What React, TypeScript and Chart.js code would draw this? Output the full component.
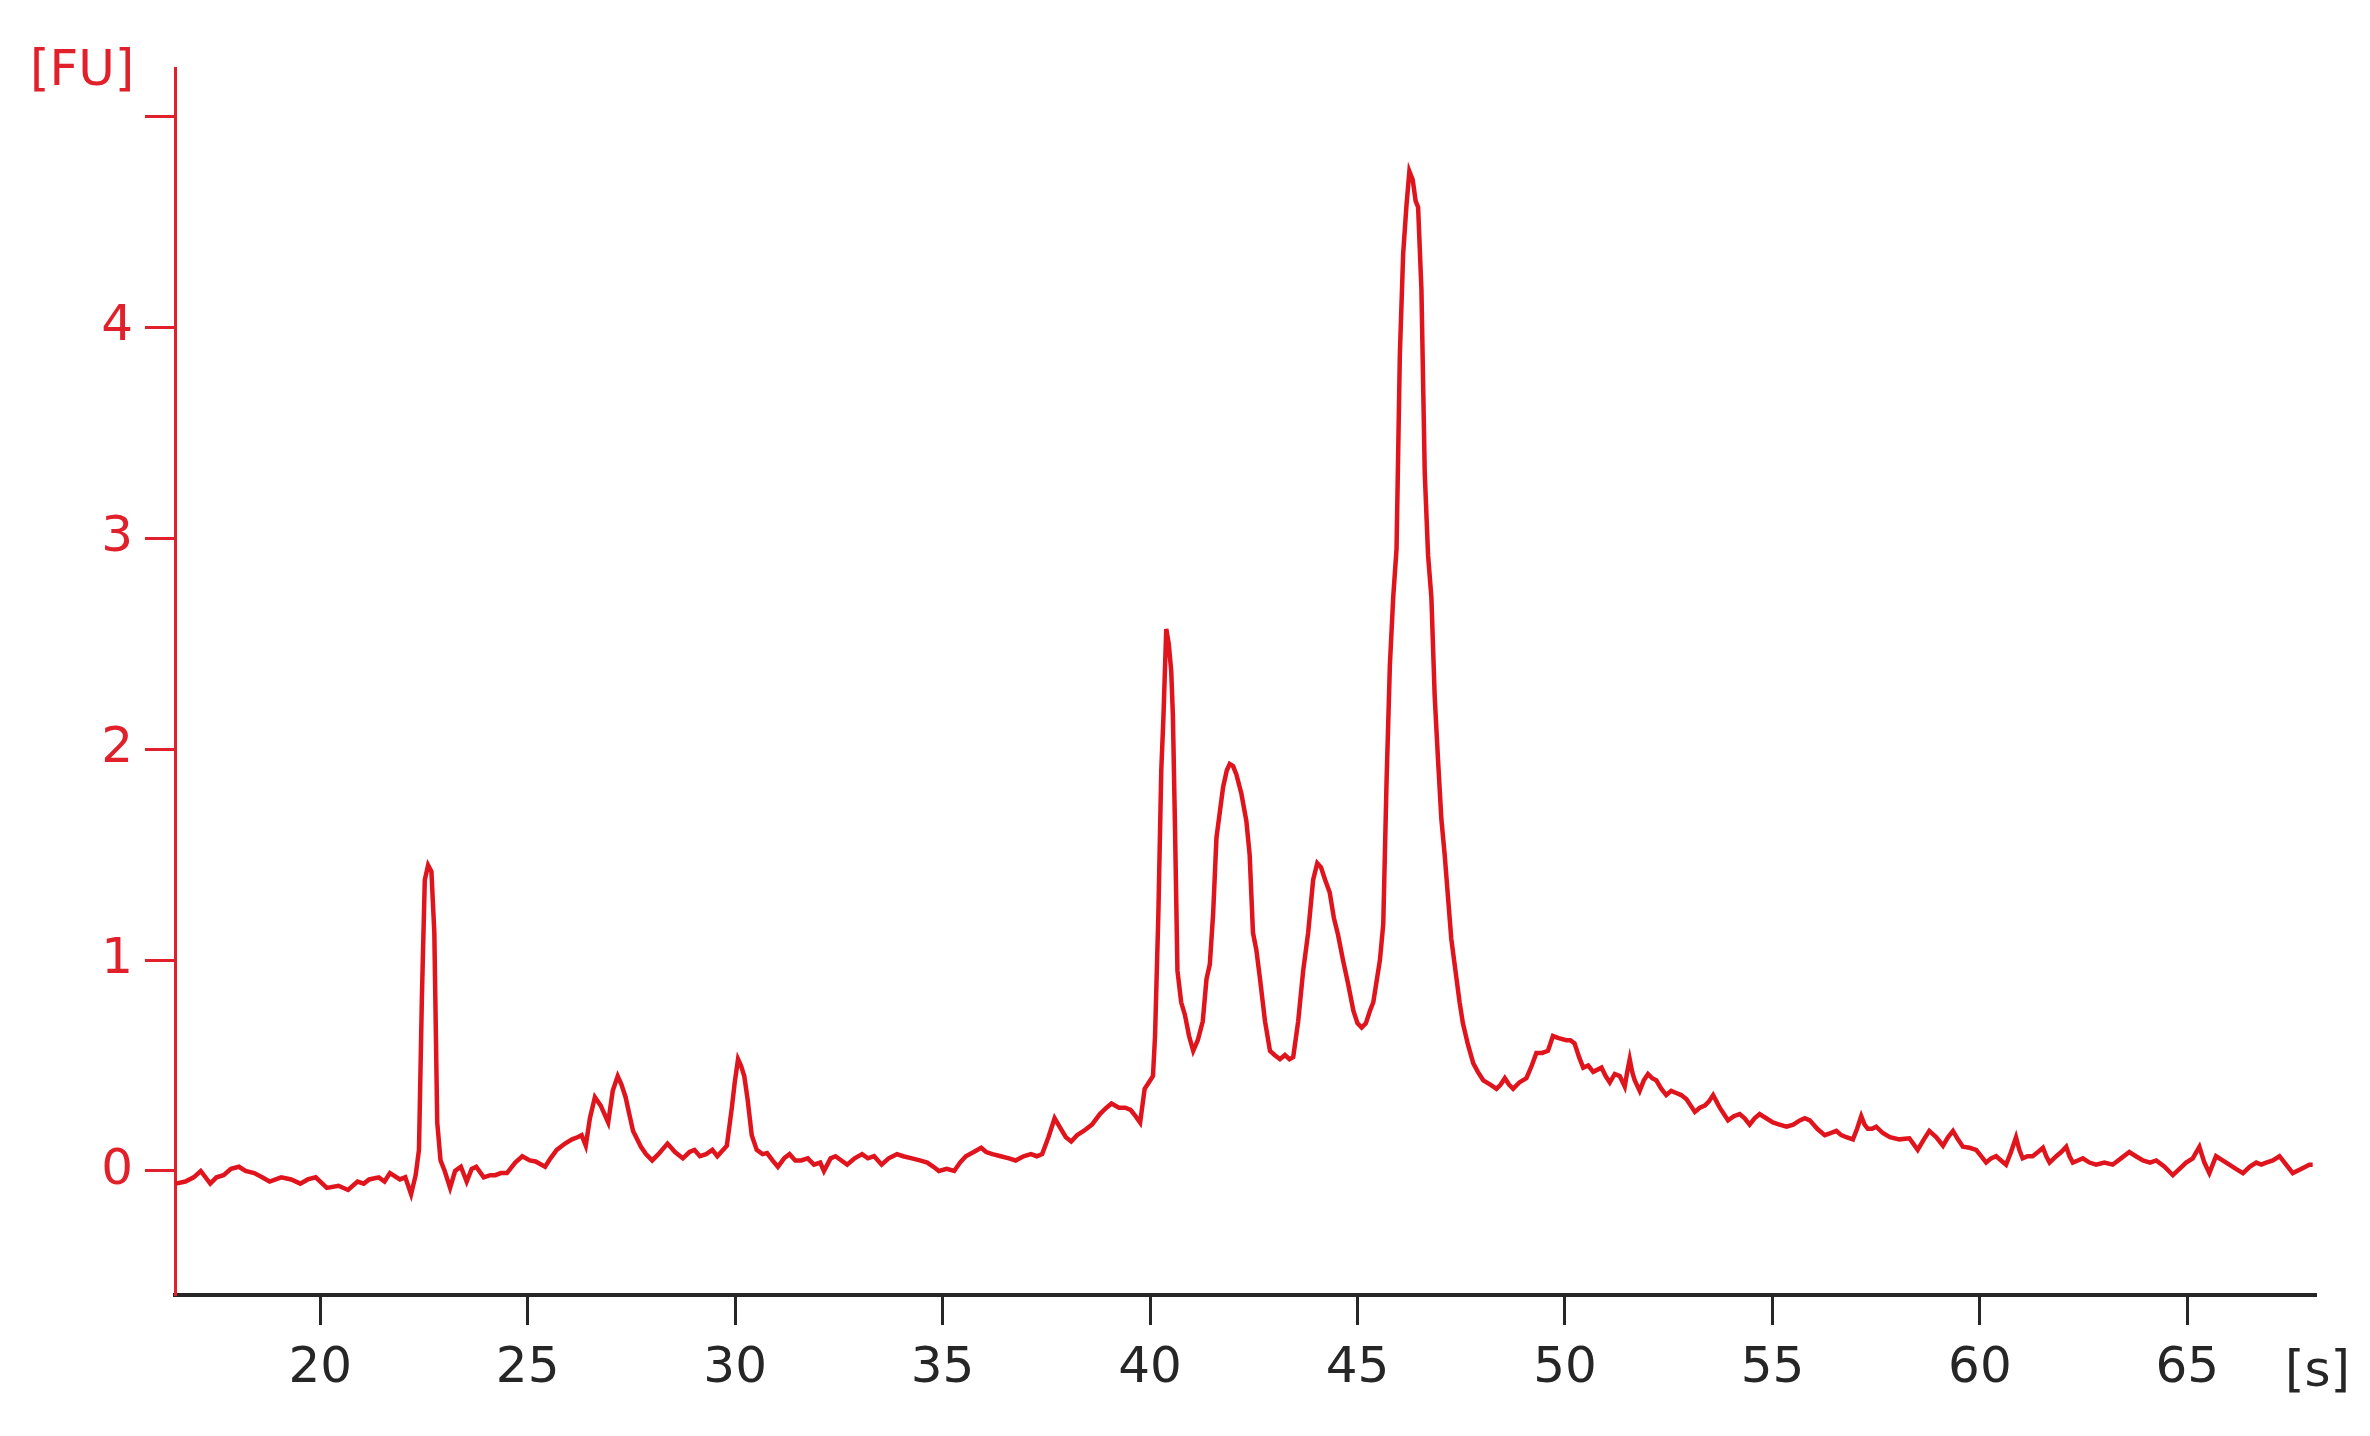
import React, { useEffect, useRef } from "react";
import { Chart, registerables } from "chart.js";

Chart.register(...registerables);

// Migration time [s]
const times: number[] = [
  16.52, 16.75, 16.95, 17.12, 17.35, 17.5, 17.67, 17.85, 18.04, 18.2, 18.41, 18.6, 18.78, 19.06, 19.3, 19.52, 19.7, 19.89,
  20.16, 20.44, 20.67, 20.9, 21.05, 21.18, 21.41, 21.55, 21.68, 21.92, 22.05, 22.19, 22.3, 22.38, 22.45, 22.52, 22.6, 22.68,
  22.75, 22.82, 22.9, 23.0, 23.13, 23.25, 23.39, 23.53, 23.65, 23.76, 23.94, 24.1, 24.22, 24.35, 24.5, 24.7, 24.87, 25.05,
  25.19, 25.42, 25.55, 25.7, 25.9, 26.07, 26.2, 26.3, 26.4, 26.5, 26.62, 26.76, 26.94, 27.05, 27.17, 27.26, 27.36, 27.46,
  27.54, 27.73, 27.85, 28.0, 28.15, 28.37, 28.55, 28.74, 28.9, 29.02, 29.15, 29.3, 29.45, 29.57, 29.8, 29.92, 29.99, 30.07,
  30.14, 30.22, 30.3, 30.4, 30.52, 30.66, 30.77, 30.9, 31.03, 31.18, 31.31, 31.45, 31.59, 31.75, 31.9, 32.05, 32.14, 32.3,
  32.42, 32.56, 32.7, 32.88, 33.06, 33.2, 33.35, 33.53, 33.7, 33.9, 34.05, 34.26, 34.45, 34.63, 34.78, 34.91, 35.1, 35.28,
  35.42, 35.56, 35.75, 35.93, 36.05, 36.2, 36.4, 36.6, 36.76, 36.95, 37.13, 37.27, 37.4, 37.55, 37.7, 37.85, 37.97, 38.1,
  38.24, 38.4, 38.6, 38.79, 38.95, 39.07, 39.25, 39.4, 39.53, 39.65, 39.76, 39.87, 39.97, 40.07, 40.12, 40.2, 40.27, 40.32,
  40.39, 40.45, 40.51, 40.55, 40.6, 40.66, 40.75, 40.84, 40.94, 41.04, 41.15, 41.27, 41.36, 41.44, 41.52, 41.6, 41.68, 41.76,
  41.85, 41.92, 42.0, 42.08, 42.2, 42.32, 42.4, 42.48, 42.56, 42.65, 42.77, 42.89, 43.0, 43.13, 43.25, 43.36, 43.45, 43.57,
  43.69, 43.81, 43.93, 44.03, 44.12, 44.22, 44.33, 44.43, 44.53, 44.65, 44.77, 44.9, 45.0, 45.1, 45.2, 45.3, 45.38, 45.46,
  45.54, 45.62, 45.7, 45.78, 45.86, 45.94, 46.02, 46.1, 46.18, 46.25, 46.33, 46.4, 46.46, 46.54, 46.62, 46.7, 46.78, 46.86,
  46.94, 47.02, 47.1, 47.18, 47.26, 47.38, 47.46, 47.54, 47.66, 47.79, 47.9, 48.03, 48.2, 48.35, 48.45, 48.55, 48.65, 48.75,
  48.9, 49.07, 49.2, 49.31, 49.45, 49.59, 49.71, 49.85, 50.03, 50.13, 50.23, 50.34, 50.44, 50.56, 50.68, 50.88, 50.98, 51.08,
  51.2, 51.32, 51.44, 51.5, 51.56, 51.62, 51.68, 51.8, 51.9, 52.0, 52.1, 52.2, 52.32, 52.44, 52.56, 52.68, 52.8, 52.93,
  53.03, 53.13, 53.25, 53.37, 53.47, 53.57, 53.65, 53.73, 53.83, 53.93, 54.07, 54.21, 54.33, 54.45, 54.57, 54.69, 54.85, 55.01,
  55.17, 55.34, 55.5, 55.66, 55.78, 55.9, 56.08, 56.26, 56.4, 56.54, 56.66, 56.78, 56.94, 57.04, 57.14, 57.22, 57.3, 57.4,
  57.5, 57.66, 57.83, 58.06, 58.3, 58.5, 58.65, 58.78, 58.95, 59.11, 59.23, 59.35, 59.47, 59.59, 59.75, 59.91, 60.03, 60.15,
  60.27, 60.39, 60.51, 60.63, 60.75, 60.87, 60.95, 61.03, 61.15, 61.27, 61.4, 61.52, 61.6, 61.68, 61.84, 61.96, 62.08, 62.16,
  62.24, 62.36, 62.48, 62.64, 62.8, 63.0, 63.2, 63.4, 63.6, 63.76, 63.93, 64.1, 64.25, 64.45, 64.65, 64.81, 64.97, 65.13,
  65.29, 65.41, 65.53, 65.61, 65.69, 65.85, 66.01, 66.17, 66.34, 66.5, 66.66, 66.78, 66.9, 67.06, 67.22, 67.38, 67.54, 67.74,
  67.94, 68.02,
];

// Fluorescence [FU]
const fu: number[] = [
  -0.06, -0.05, -0.03, 0.0, -0.06, -0.03, -0.02, 0.01, 0.02, 0.0, -0.01, -0.03, -0.05, -0.03, -0.04, -0.06, -0.04, -0.03,
  -0.08, -0.07, -0.09, -0.05, -0.06, -0.04, -0.03, -0.05, -0.01, -0.04, -0.03, -0.11, -0.02, 0.1, 0.82, 1.38, 1.45, 1.42,
  1.13, 0.23, 0.05, 0.0, -0.08, 0.0, 0.02, -0.05, 0.01, 0.02, -0.03, -0.02, -0.02, -0.01, -0.01, 0.04, 0.07, 0.05,
  0.045, 0.02, 0.06, 0.1, 0.13, 0.15, 0.16, 0.17, 0.12, 0.25, 0.35, 0.31, 0.23, 0.38, 0.45, 0.41, 0.35, 0.26,
  0.19, 0.115, 0.08, 0.05, 0.08, 0.13, 0.09, 0.06, 0.09, 0.1, 0.07, 0.08, 0.1, 0.07, 0.12, 0.3, 0.42, 0.53,
  0.5, 0.45, 0.34, 0.17, 0.1, 0.08, 0.085, 0.05, 0.02, 0.06, 0.08, 0.05, 0.05, 0.06, 0.03, 0.04, 0.0, 0.06,
  0.07, 0.05, 0.03, 0.06, 0.08, 0.06, 0.07, 0.03, 0.06, 0.08, 0.07, 0.06, 0.05, 0.04, 0.02, 0.0, 0.01, 0.0,
  0.04, 0.07, 0.09, 0.11, 0.09, 0.08, 0.07, 0.06, 0.05, 0.07, 0.08, 0.07, 0.08, 0.16, 0.25, 0.2, 0.16, 0.14,
  0.17, 0.19, 0.22, 0.27, 0.3, 0.32, 0.3, 0.3, 0.29, 0.26, 0.23, 0.39, 0.42, 0.45, 0.64, 1.22, 1.9, 2.14,
  2.57, 2.5, 2.37, 2.16, 1.64, 0.95, 0.8, 0.74, 0.64, 0.57, 0.62, 0.71, 0.91, 0.98, 1.22, 1.58, 1.7, 1.82,
  1.9, 1.93, 1.92, 1.88, 1.79, 1.66, 1.5, 1.13, 1.05, 0.91, 0.71, 0.57, 0.55, 0.53, 0.55, 0.53, 0.54, 0.71,
  0.95, 1.13, 1.38, 1.46, 1.44, 1.38, 1.32, 1.2, 1.12, 1.0, 0.89, 0.76, 0.7, 0.68, 0.7, 0.76, 0.8, 0.9,
  1.0, 1.17, 1.85, 2.4, 2.72, 2.95, 3.87, 4.35, 4.58, 4.74, 4.7, 4.6, 4.57, 4.18, 3.31, 2.92, 2.72, 2.25,
  1.95, 1.67, 1.5, 1.3, 1.1, 0.92, 0.8, 0.7, 0.6, 0.51, 0.47, 0.43, 0.41, 0.39, 0.41, 0.44, 0.41, 0.39,
  0.42, 0.44, 0.5, 0.56, 0.56, 0.57, 0.64, 0.63, 0.62, 0.62, 0.605, 0.54, 0.49, 0.5, 0.47, 0.49, 0.45, 0.42,
  0.46, 0.45, 0.4, 0.47, 0.53, 0.47, 0.43, 0.38, 0.43, 0.46, 0.44, 0.43, 0.39, 0.36, 0.38, 0.37, 0.36, 0.34,
  0.31, 0.28, 0.3, 0.31, 0.33, 0.36, 0.33, 0.3, 0.27, 0.24, 0.26, 0.27, 0.25, 0.22, 0.25, 0.27, 0.25, 0.23,
  0.22, 0.21, 0.22, 0.24, 0.25, 0.24, 0.2, 0.17, 0.18, 0.19, 0.17, 0.16, 0.15, 0.2, 0.26, 0.22, 0.2, 0.2,
  0.21, 0.18, 0.16, 0.15, 0.155, 0.1, 0.15, 0.19, 0.16, 0.12, 0.16, 0.19, 0.15, 0.115, 0.11, 0.1, 0.07, 0.04,
  0.06, 0.07, 0.05, 0.03, 0.09, 0.16, 0.1, 0.06, 0.07, 0.07, 0.09, 0.11, 0.07, 0.04, 0.07, 0.09, 0.115, 0.07,
  0.04, 0.05, 0.06, 0.04, 0.03, 0.04, 0.03, 0.06, 0.09, 0.07, 0.05, 0.04, 0.05, 0.02, -0.02, 0.01, 0.04, 0.06,
  0.115, 0.04, -0.01, 0.03, 0.07, 0.05, 0.03, 0.01, -0.01, 0.02, 0.04, 0.03, 0.04, 0.05, 0.07, 0.03, -0.01, 0.01,
  0.03, 0.03,
];

const xTickStep = 5;
const yTickStep = 1;
const xMin = 16.5;
const xMax = 68.1;
const yMin = -0.588;
const yMax = 5.23;
const yUnitLabel = "[FU]";
const xUnitLabel = "[s]";

const RED = "#e0141c";
const AXIS_RED = "#e0202a";
const DARK = "#262626";
const FONT = "'DejaVu Sans', Verdana, sans-serif";

export default function App() {
  const canvasRef = useRef<HTMLCanvasElement | null>(null);

  useEffect(() => {
    const canvas = canvasRef.current;
    if (!canvas) return;

    const unitLabels = {
      id: "unitLabels",
      afterDraw(chart: any) {
        const { ctx, chartArea } = chart;
        ctx.save();
        ctx.font = `50px ${FONT}`;
        ctx.textBaseline = "middle";
        ctx.textAlign = "left";
        ctx.fillStyle = AXIS_RED;
        ctx.fillText(yUnitLabel, 30, chartArea.top + 4);
        ctx.fillStyle = DARK;
        ctx.fillText(xUnitLabel, chartArea.right - 31, chartArea.bottom + 78);
        ctx.restore();
      },
    };

    const chart = new Chart(canvas, {
      type: "line",
      data: {
        datasets: [
          {
            data: times.map((t, i) => ({ x: t, y: fu[i] })),
            borderColor: RED,
            borderWidth: 4.5,
            pointRadius: 0,
            tension: 0,
            fill: false,
          },
        ],
      },
      options: {
        responsive: false,
        animation: false,
        layout: { padding: { left: 0, right: 54, top: 68, bottom: 0 } },
        plugins: {
          legend: { display: false },
          tooltip: { enabled: false },
          title: { display: false },
        },
        scales: {
          x: {
            type: "linear",
            min: xMin,
            max: xMax,
            afterFit: (scale: any) => {
              scale.height = 141;
            },
            border: { display: true, color: DARK, width: 4 },
            grid: {
              display: true,
              drawOnChartArea: false,
              drawTicks: true,
              tickLength: 30,
              tickColor: DARK,
              tickWidth: 3,
            },
            ticks: {
              stepSize: xTickStep,
              includeBounds: false,
              autoSkip: false,
              maxRotation: 0,
              color: DARK,
              padding: 14,
              font: { family: FONT, size: 50 },
            },
          },
          y: {
            type: "linear",
            min: yMin,
            max: yMax,
            afterFit: (scale: any) => {
              scale.width = 175;
            },
            border: { display: true, color: AXIS_RED, width: 3 },
            grid: {
              display: true,
              drawOnChartArea: false,
              drawTicks: true,
              tickLength: 30,
              tickColor: AXIS_RED,
              tickWidth: 3,
            },
            ticks: {
              stepSize: yTickStep,
              includeBounds: false,
              color: AXIS_RED,
              padding: 12,
              font: { family: FONT, size: 50 },
              callback: (v: any) => (Number(v) === 5 ? "" : String(v)),
            },
          },
        },
      },
      plugins: [unitLabels],
    } as any);

    return () => chart.destroy();
  }, []);

  return (
    <div style={{ position: "fixed", left: 0, top: 0, width: 2370, height: 1436, background: "#fff" }}>
      <canvas ref={canvasRef} width={2370} height={1436} style={{ width: 2370, height: 1436, display: "block" }} />
    </div>
  );
}
